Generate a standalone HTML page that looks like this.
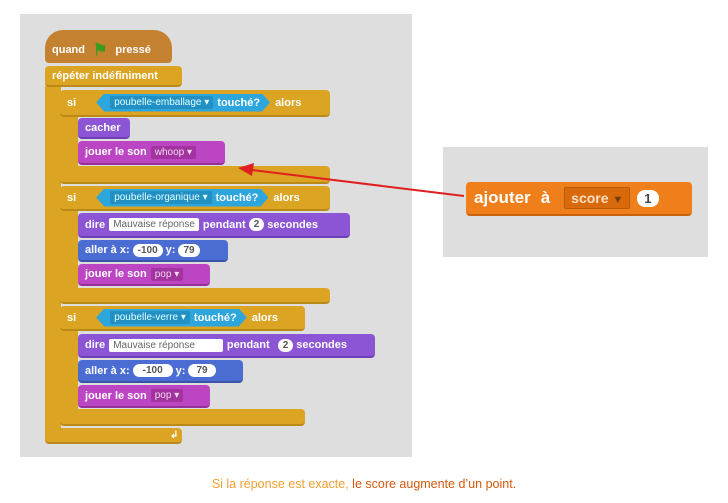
<!DOCTYPE html>
<html><head><meta charset="utf-8"><style>
body{margin:0;width:728px;height:503px;background:#fff;position:relative;overflow:hidden;font-family:"Liberation Sans",sans-serif}
.p{position:absolute;background:#dedede}
.b{position:absolute;border-radius:4px;color:#fff;font-weight:bold;font-size:11px;display:flex;align-items:center;box-sizing:border-box;padding-left:7px;white-space:nowrap}
.g{background:#dba423;border-bottom:2px solid #b98a1a}
.ev{background:#c4812f}
.lk{background:#8b55d6;border-bottom:2px solid #6f40b5}
.sd{background:#bc45c4;border-bottom:2px solid #963099}
.mo{background:#4b6dd3;border-bottom:2px solid #3853a8}
.w{background:#fff;color:#666;font-weight:normal;font-size:10px;padding:1px 4px;margin:0 4px;border-radius:2px}
.r{background:#fff;color:#555;font-size:10px;padding:1px 5px;border-radius:8px;margin:0 3px}
.dd{font-weight:normal;font-size:10px;padding:1px 4px;margin:0 4px;border-radius:2px}
.se{background:#2da6dd;height:18px;display:inline-flex;align-items:center;padding:0 10px;margin:0 5px;clip-path:polygon(8px 0,calc(100% - 8px) 0,100% 50%,calc(100% - 8px) 100%,8px 100%,0 50%)}
.se .dd{background:#2390c4;color:#dff}
</style></head><body>
<div class="p" style="left:20px;top:14px;width:392px;height:443px"></div>
<div class="p" style="left:443px;top:147px;width:265px;height:110px"></div>

<!-- forever C -->
<div class="b g" style="left:45px;top:86px;width:16px;height:350px;border-radius:0"></div>
<div class="b g" style="left:45px;top:428px;width:137px;height:16px"><span style="margin-left:118px;font-size:10px">↲</span></div>
<div class="b ev" style="left:45px;top:30px;width:127px;height:33px;border-radius:18px 18px 4px 4px;padding-top:6px">quand <span style="color:#3c9a1e;font-size:16px;margin:0 8px">⚑</span> pressé</div>
<div class="b g" style="left:45px;top:66px;width:137px;height:21px">répéter indéfiniment</div>

<!-- si 1 -->
<div class="b g" style="left:60px;top:112px;width:18px;height:60px;border-radius:0"></div>
<div class="b g" style="left:60px;top:90px;width:270px;height:27px">si <span class="se" style="margin-left:20px"><span class="dd">poubelle-emballage ▾</span>touché?</span>alors</div>
<div class="b lk" style="left:78px;top:118px;width:52px;height:21px">cacher</div>
<div class="b sd" style="left:78px;top:141px;width:147px;height:24px">jouer le son <span class="dd" style="background:#a3339f;color:#f0d8f0">whoop ▾</span></div>
<div class="b g" style="left:60px;top:166px;width:270px;height:18px"></div>

<!-- si 2 -->
<div class="b g" style="left:60px;top:205px;width:18px;height:90px;border-radius:0"></div>
<div class="b g" style="left:60px;top:186px;width:270px;height:25px">si <span class="se" style="margin-left:20px"><span class="dd">poubelle-organique ▾</span>touché?</span>alors</div>
<div class="b lk" style="left:78px;top:213px;width:272px;height:25px">dire <span class="w">Mauvaise réponse</span>pendant <span class="r">2</span>secondes</div>
<div class="b mo" style="left:78px;top:240px;width:150px;height:22px">aller à x: <span class="r">-100</span> y: <span class="r">79</span></div>
<div class="b sd" style="left:78px;top:264px;width:132px;height:22px">jouer le son <span class="dd" style="background:#a3339f;color:#f0d8f0">pop ▾</span></div>
<div class="b g" style="left:60px;top:288px;width:270px;height:16px"></div>

<!-- si 3 -->
<div class="b g" style="left:60px;top:326px;width:18px;height:90px;border-radius:0"></div>
<div class="b g" style="left:60px;top:306px;width:245px;height:25px">si <span class="se" style="margin-left:20px"><span class="dd">poubelle-verre ▾</span>touché?</span>alors</div>
<div class="b lk" style="left:78px;top:334px;width:297px;height:24px">dire <span class="w" style="padding-right:28px">Mauvaise réponse</span>pendant <span class="r" style="margin-left:8px">2</span>secondes</div>
<div class="b mo" style="left:78px;top:360px;width:165px;height:23px">aller à x: <span class="r" style="padding:1px 10px">-100</span> y: <span class="r" style="padding:1px 8px">79</span></div>
<div class="b sd" style="left:78px;top:385px;width:132px;height:23px">jouer le son <span class="dd" style="background:#a3339f;color:#f0d8f0">pop ▾</span></div>
<div class="b g" style="left:60px;top:409px;width:245px;height:17px"></div>

<!-- right block -->
<div class="b" style="left:466px;top:182px;width:226px;height:34px;background:#ef7f1a;border-bottom:2px solid #c9620c;font-size:17px;padding-left:8px">ajouter <span style="margin:0 10px">à</span><span class="dd" style="background:#d86a0c;color:#fde0c4;font-size:14px;font-weight:bold;padding:2px 6px;border:1px solid #b85a08">score <span style="color:#7a3a00;font-size:11px">▼</span></span><span class="r" style="font-size:13px;padding:1px 7px;font-weight:bold;color:#444">1</span></div>

<svg width="728" height="503" style="position:absolute;left:0;top:0">
<line x1="464" y1="196" x2="252" y2="170" stroke="#e02020" stroke-width="2"/>
<polygon points="238,168 254,163 252,176" fill="#e02020"/>
</svg>

<div style="position:absolute;left:0;top:477px;width:728px;text-align:center;font-size:12.5px"><span style="color:#f0a030">Si la réponse est exacte, </span><span style="color:#d4580c">le score augmente d’un point.</span></div>
</body></html>
